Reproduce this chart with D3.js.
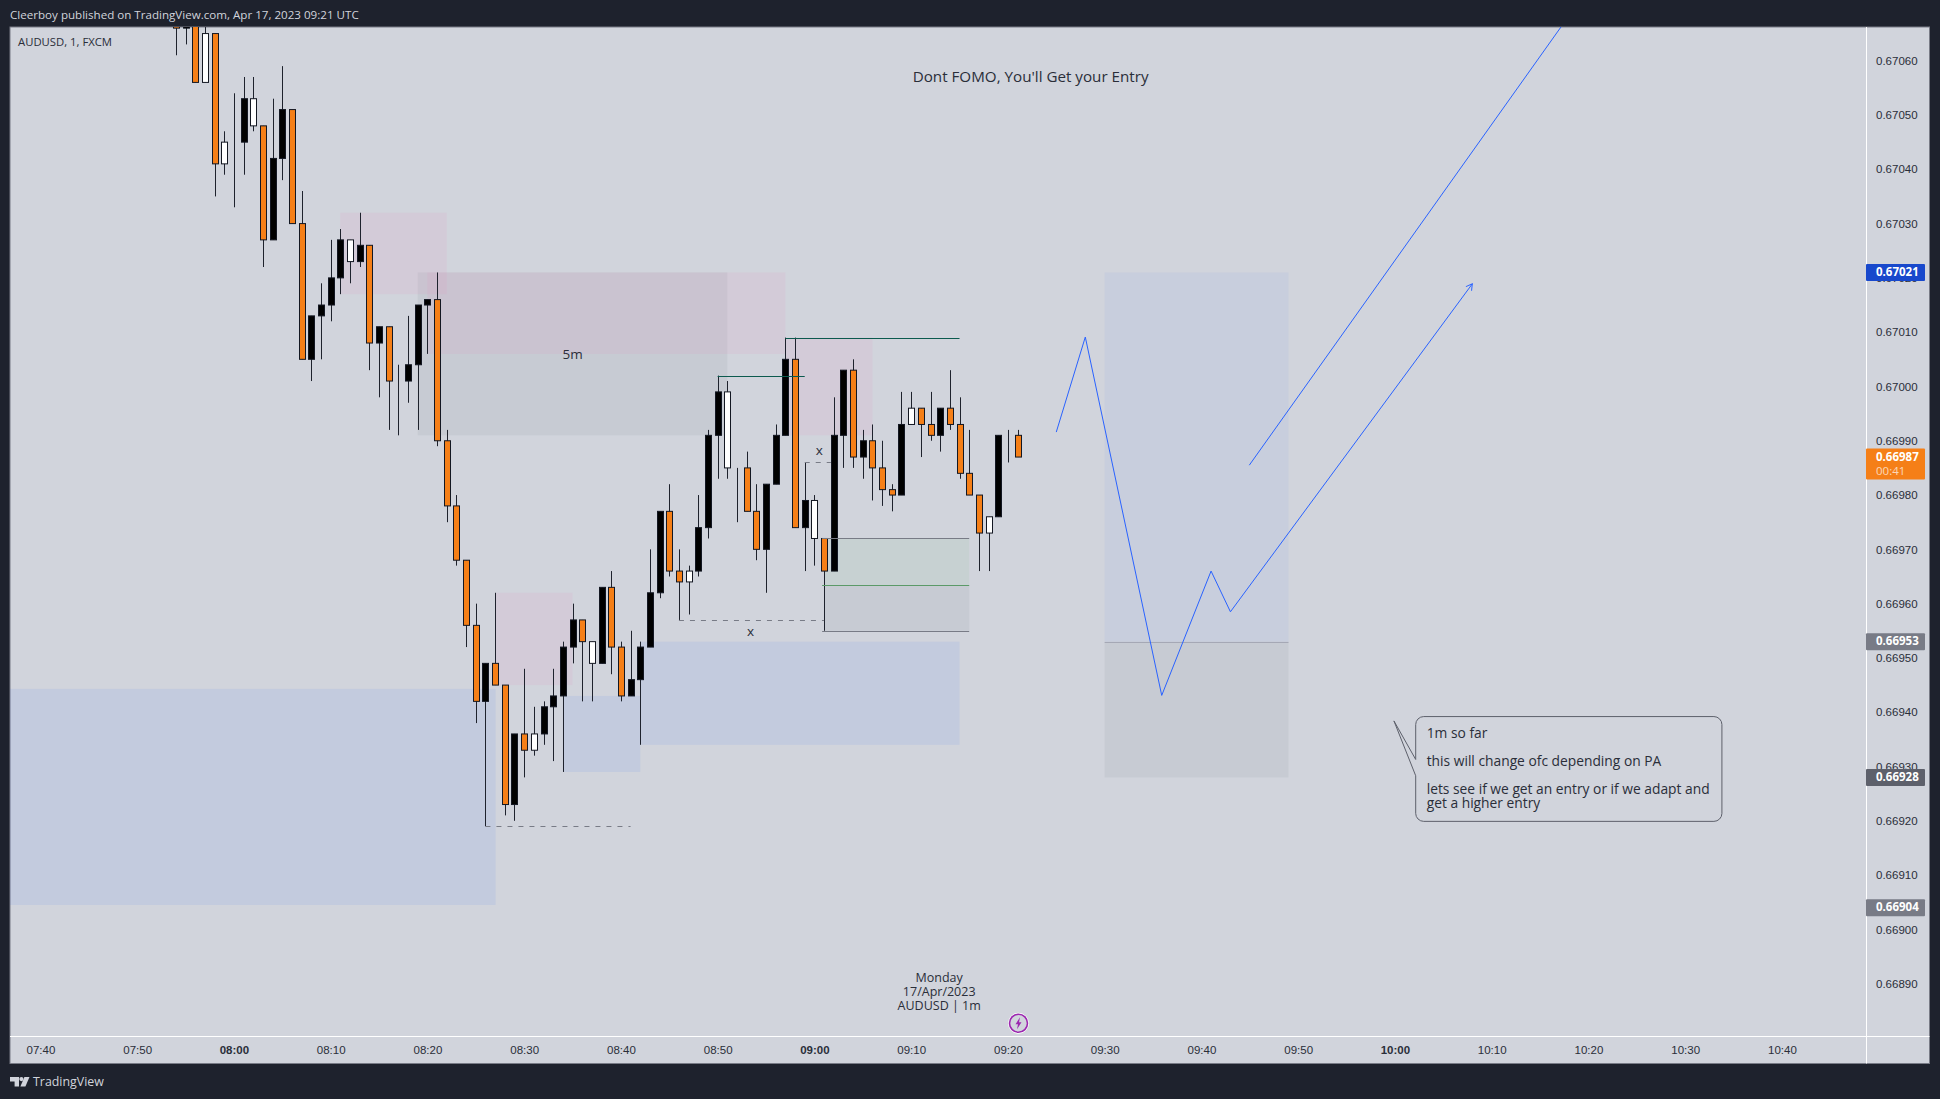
<!DOCTYPE html>
<html lang="en">
<head>
<meta charset="UTF-8">
<title>AUDUSD, 1, FXCM</title>
<style>
  * { margin: 0; padding: 0; box-sizing: border-box; }
  body { background: #1e222d; overflow: hidden; }
  svg { display: block; font-family: 'Open Sans', sans-serif; }
  .tick-text { font-size: 11.5px; fill: #2a2e39; }
  .note { font-size: 13.8px; fill: #2a2e39; }
</style>
</head>
<body>
<svg id="chart" width="1940" height="1099"></svg>
<script src="https://cdnjs.cloudflare.com/ajax/libs/d3/7.8.5/d3.min.js"></script>
<script>
// Prices are in points (1 point = 0.00001), times in minutes after midnight UTC.
const FIRST_MINUTE = 474; // 07:54

const candleKinds = [
  'down', 'up', 'down', 'white', 'down', 'white', 'up', 'up', 'white', 'down', 'up',
  'up', 'down', 'down', 'up', 'up', 'up', 'up', 'white', 'up', 'down', 'up',
  'down', 'up', 'up', 'up', 'up', 'down', 'down', 'down', 'down', 'down', 'up',
  'down', 'down', 'up', 'down', 'white', 'up', 'up', 'up', 'up', 'down', 'white',
  'up', 'down', 'down', 'up', 'up', 'up', 'up', 'down', 'down', 'white', 'up',
  'up', 'up', 'white', 'up', 'down', 'down', 'up', 'up', 'up', 'down', 'up',
  'white', 'down', 'up', 'up', 'down', 'up', 'down', 'down', 'down', 'up', 'white',
  'down', 'down', 'up', 'down', 'down', 'down', 'down', 'white', 'up', 'up', 'down'
];
const bodyTops = [
  67072, 67070, 67075, 67065, 67065, 67045, 67045, 67053, 67053, 67048, 67042,
  67051, 67051, 67030, 67013, 67015, 67020, 67027, 67027, 67026, 67026, 67011,
  67011, 67001, 67004, 67015, 67016, 67016, 66990, 66978, 66968, 66956, 66949,
  66949, 66945, 66936, 66936, 66936, 66941, 66943, 66952, 66957, 66957, 66953,
  66963, 66963, 66952, 66946, 66952, 66962, 66977, 66977, 66966, 66966, 66974,
  66991, 66999, 66999, 66985, 66985, 66977, 66982, 66991, 67005, 67005, 66979,
  66979, 66972, 66991, 67003, 67003, 66990, 66990, 66985, 66981, 66993, 66996,
  66996, 66993, 66996, 66996, 66993, 66984, 66980, 66976, 66991, 66991, 66991
];
const bodyBottoms = [
  67066, 67066, 67056, 67056, 67041, 67041, 67045, 67045, 67048, 67027, 67027,
  67042, 67030, 67005, 67005, 67013, 67015, 67020, 67023, 67023, 67008, 67008,
  67001, 67001, 67001, 67004, 67015, 66990, 66978, 66968, 66956, 66942, 66942,
  66945, 66923, 66923, 66933, 66933, 66936, 66941, 66943, 66952, 66953, 66949,
  66949, 66952, 66943, 66943, 66946, 66952, 66962, 66966, 66964, 66964, 66966,
  66974, 66991, 66985, 66985, 66977, 66970, 66970, 66982, 66991, 66974, 66974,
  66972, 66966, 66966, 66991, 66987, 66987, 66985, 66981, 66980, 66980, 66993,
  66993, 66991, 66991, 66993, 66984, 66980, 66973, 66973, 66976, 66991, 66987
];
const wickHighs = [
  67074, 67072, 67076, 67072, 67065, 67047, 67054, 67057, 67057, 67048, 67053,
  67059, 67051, 67036, 67013, 67019, 67027, 67029, 67027, 67032, 67026, 67011,
  67011, 67004, 67013, 67015, 67016, 67021, 66992, 66980, 66968, 66960, 66949,
  66962, 66945, 66936, 66948, 66941, 66942, 66948, 66953, 66960, 66957, 66953,
  66963, 66966, 66953, 66955, 66953, 66970, 66977, 66982, 66970, 66967, 66980,
  66992, 67002, 67001, 66985, 66988, 66982, 66982, 66993, 67009, 67009, 66986,
  66980, 66972, 66998, 67003, 67005, 66992, 66993, 66990, 66982, 66999, 66999,
  66996, 66999, 66996, 67003, 66998, 66992, 66980, 66976, 66991, 66992, 66992
];
const wickLows = [
  67061, 67063, 67056, 67056, 67035, 67039, 67033, 67039, 67047, 67022, 67027,
  67038, 67030, 67005, 67001, 67005, 67012, 67017, 67019, 67022, 67003, 66998,
  66992, 66991, 66997, 66992, 67006, 66989, 66975, 66967, 66952, 66938, 66919,
  66945, 66921, 66920, 66928, 66932, 66934, 66931, 66929, 66949, 66942, 66942,
  66949, 66947, 66942, 66943, 66934, 66952, 66961, 66965, 66957, 66958, 66965,
  66972, 66983, 66983, 66975, 66977, 66968, 66962, 66982, 66991, 66974, 66966,
  66967, 66955, 66966, 66985, 66985, 66983, 66979, 66978, 66977, 66980, 66993,
  66987, 66990, 66988, 66992, 66983, 66980, 66966, 66966, 66976, 66986, 66987
];

const priceTicks = [66890, 66900, 66910, 66920, 66930, 66940, 66950, 66960, 66970, 66980,
  66990, 67000, 67010, 67020, 67030, 67040, 67050, 67060];
const timeTicks = [460, 470, 480, 490, 500, 510, 520, 530, 540, 550, 560, 570, 580, 590,
  600, 610, 620, 630, 640];

// Zones: [start, end, top price, bottom price]
const pinkZones = [[491, 502, 67032, 67017], [500, 537, 67021, 67006], [537, 546, 67009, 66991], [507, 515, 66962, 66945]];
const blueZones = [[420, 507.05, 66944.3, 66904.5], [514, 522, 66943, 66929], [522, 555, 66953, 66934]];
const greyZones = [[499, 531, 67021, 66991]];
const tealLines = [[530, 539, 67002], [537, 555, 67009]];
const dashedLines = [[506, 521, 66919], [526, 541, 66957], [539, 541.7, 66986]];

const longPosition = { start: 541, end: 556, top: 66972, mid: 66963.4, bottom: 66955 };
const plannedPosition = { start: 570, end: 589, top: 67021, mid: 66953, bottom: 66928 };
const plannedPathTimes = [565, 568, 575.9, 581, 583, 608];
const plannedPathPrices = [66991.6, 67009.1, 66943.1, 66966, 66958.5, 67018.9];
const secondPathTimes = [584.95, 617.4];
const secondPathPrices = [66985.5, 67066.8];

const noteLines = ['1m so far', '', 'this will change ofc depending on PA', '', 'lets see if we get an entry or if we adapt and', 'get a higher entry'];
const tagPrices = [67021, 66987, 66953, 66928, 66904];
const tagKinds = ['blue', 'last', 'grey', 'dark', 'grey'];
const TAG_COLORS = { blue: '#1848cc', last: '#f57f17', grey: '#787b86', dark: '#5d606b' };
const BODY_COLORS = { down: '#f57f17', up: '#000000', white: '#ffffff' };

const PANE = { left: 10, top: 27, right: 1866, bottom: 1036, outerRight: 1929.5, outerBottom: 1063.5 };

const svg = d3.select('#chart');
const x = d3.scaleLinear().domain([480, 640]).range([233.9, 1781.9]);
const y = d3.scaleLinear().domain([66890, 67060]).range([983.7, 60.7]);
const crisp = (v) => Math.round(v) + 0.5;

svg.append('defs').append('clipPath').attr('id', 'pane-clip').append('rect')
  .attr('x', PANE.left).attr('y', PANE.top)
  .attr('width', PANE.right - PANE.left).attr('height', PANE.bottom - PANE.top);

svg.select('defs').append('marker')
  .attr('id', 'arrow').attr('viewBox', '-7 -5 8 10')
  .attr('markerUnits', 'userSpaceOnUse')
  .attr('markerWidth', 8).attr('markerHeight', 10)
  .attr('orient', 'auto')
  .append('path').attr('d', 'M-6,-3.5L0,0L-6,3.5').attr('fill', 'none')
  .attr('stroke', '#2962ff').attr('stroke-width', 1);

// Frame and panes
svg.append('rect')
  .attr('x', PANE.left).attr('y', PANE.top)
  .attr('width', PANE.outerRight - PANE.left).attr('height', PANE.outerBottom - PANE.top)
  .attr('fill', '#d1d4dc').attr('stroke', '#787b86').attr('stroke-width', 1);
svg.append('line').attr('x1', PANE.right + 0.5).attr('x2', PANE.right + 0.5)
  .attr('y1', PANE.top).attr('y2', PANE.outerBottom).attr('stroke', '#ffffff');
svg.append('line').attr('x1', PANE.left).attr('x2', PANE.outerRight)
  .attr('y1', PANE.bottom + 0.5).attr('y2', PANE.bottom + 0.5).attr('stroke', '#ffffff');

const plot = svg.append('g').attr('clip-path', 'url(#pane-clip)');

function drawZones(zones, fill) {
  plot.append('g').selectAll('rect').data(zones).join('rect')
    .attr('x', (d) => x(d[0])).attr('width', (d) => x(d[1]) - x(d[0]))
    .attr('y', (d) => y(d[2])).attr('height', (d) => y(d[3]) - y(d[2]))
    .attr('fill', fill);
}

drawZones(greyZones, 'rgba(120,123,134,0.1)');
drawZones(pinkZones, 'rgba(233,130,190,0.1)');
drawZones(blueZones, 'rgba(41,98,255,0.08)');

// Position tools under the candles
function drawPosition(pos, upperFill, lowerFill) {
  drawZones([[pos.start, pos.end, pos.top, pos.mid]], upperFill);
  drawZones([[pos.start, pos.end, pos.mid, pos.bottom]], lowerFill);
}
drawPosition(longPosition, 'rgba(76,175,80,0.07)', 'rgba(120,123,134,0.1)');
drawPosition(plannedPosition, 'rgba(41,98,255,0.05)', 'rgba(120,123,134,0.1)');

const posLines = [
  [longPosition.start - 0.2, longPosition.end, longPosition.top, '#787b86', 1],
  [longPosition.start - 0.2, longPosition.end, longPosition.mid, '#5b9a68', 1],
  [longPosition.start - 0.2, longPosition.end, longPosition.bottom, '#787b86', 1],
  [plannedPosition.start, plannedPosition.end, plannedPosition.mid, '#a5a8b5', 1]
];

// Candles
const candles = candleKinds.map((kind, i) => ({
  minute: FIRST_MINUTE + i,
  kind,
  top: bodyTops[i],
  bottom: bodyBottoms[i],
  high: wickHighs[i],
  low: wickLows[i]
}));
const candleG = plot.append('g');
candleG.selectAll('line.wick').data(candles).join('line')
  .attr('class', 'wick')
  .attr('x1', (d) => crisp(x(d.minute))).attr('x2', (d) => crisp(x(d.minute)))
  .attr('y1', (d) => y(d.high)).attr('y2', (d) => y(d.low))
  .attr('stroke', '#1e222d').attr('stroke-width', 1);
candleG.selectAll('rect.body').data(candles).join('rect')
  .attr('class', 'body')
  .attr('x', (d) => crisp(x(d.minute)) - 3).attr('width', 6)
  .attr('y', (d) => y(d.top)).attr('height', (d) => y(d.bottom) - y(d.top))
  .attr('fill', (d) => BODY_COLORS[d.kind])
  .attr('stroke', '#131722').attr('stroke-width', 1);

// Lines on top of the candles
plot.append('g').selectAll('line').data(posLines).join('line')
  .attr('x1', (d) => x(d[0])).attr('x2', (d) => x(d[1]))
  .attr('y1', (d) => crisp(y(d[2]))).attr('y2', (d) => crisp(y(d[2])))
  .attr('stroke', (d) => d[3]).attr('stroke-width', (d) => d[4]);
plot.append('g').selectAll('line').data(tealLines).join('line')
  .attr('x1', (d) => x(d[0])).attr('x2', (d) => x(d[1]))
  .attr('y1', (d) => crisp(y(d[2]))).attr('y2', (d) => crisp(y(d[2])))
  .attr('stroke', '#0b5a4e').attr('stroke-width', 1);
plot.append('g').selectAll('line').data(dashedLines).join('line')
  .attr('x1', (d) => x(d[0])).attr('x2', (d) => x(d[1]))
  .attr('y1', (d) => crisp(y(d[2]))).attr('y2', (d) => crisp(y(d[2])))
  .attr('stroke', '#787b86').attr('stroke-width', 1).attr('stroke-dasharray', '5 6');

// Planned moves
const pathLine = d3.line().x((d) => x(d[0])).y((d) => y(d[1]));
plot.append('path')
  .attr('d', pathLine(d3.zip(plannedPathTimes, plannedPathPrices)))
  .attr('fill', 'none').attr('stroke', '#2962ff').attr('stroke-width', 1)
  .attr('marker-end', 'url(#arrow)');
plot.append('path')
  .attr('d', pathLine(d3.zip(secondPathTimes, secondPathPrices)))
  .attr('fill', 'none').attr('stroke', '#2962ff').attr('stroke-width', 1);

// Callout
const note = { left: 602.15, right: 633.8, top: 66939.2, bottom: 66919.9, tipT: 599.9, tipP: 66938.4, tailTop: 66931.3, tailBottom: 66928.3 };
const r = 8;
const notePath = d3.path();
notePath.moveTo(x(note.left), y(note.tailTop));
notePath.lineTo(x(note.tipT), y(note.tipP));
notePath.lineTo(x(note.left), y(note.tailBottom));
notePath.arcTo(x(note.left), y(note.bottom), x(note.right), y(note.bottom), r);
notePath.arcTo(x(note.right), y(note.bottom), x(note.right), y(note.top), r);
notePath.arcTo(x(note.right), y(note.top), x(note.left), y(note.top), r);
notePath.arcTo(x(note.left), y(note.top), x(note.left), y(note.tailTop), r);
notePath.closePath();
plot.append('path').attr('d', notePath.toString())
  .attr('fill', '#d1d4dc').attr('stroke', '#5d606b').attr('stroke-width', 1);

const noteText = plot.append('g').attr('class', 'note');
let noteY = y(note.top) + 17.6;
noteLines.forEach((line, i) => {
  noteText.append('text').attr('x', x(note.left) + 11).attr('y', noteY)
    .attr('dominant-baseline', 'middle').text(line);
  noteY += (i >= 4) ? 14.4 : 14;
});

// Text notes on the chart
const chartLabels = [
  { text: "Dont FOMO, You'll Get your Entry", t: 562.35, p: 67056.9, size: 15.2 },
  { text: '5m', t: 515, p: 67005.8, size: 13.5 },
  { text: 'x', t: 540.5, p: 66988, size: 13.5 },
  { text: 'x', t: 533.4, p: 66954.7, size: 13.5 },
  { text: 'Monday', t: 552.9, p: 66891, size: 12.5 },
  { text: '17/Apr/2023', t: 552.9, p: 66888.4, size: 12.5 },
  { text: 'AUDUSD | 1m', t: 552.9, p: 66885.75, size: 12.5 }
];
svg.append('g').selectAll('text').data(chartLabels).join('text')
  .attr('x', (d) => x(d.t)).attr('y', (d) => y(d.p))
  .attr('text-anchor', 'middle').attr('dominant-baseline', 'middle')
  .attr('font-size', (d) => d.size).attr('fill', '#2a2e39')
  .text((d) => d.text);

// Axes
const priceAxis = d3.axisRight(y).tickValues(priceTicks)
  .tickFormat((d) => d3.format('.5f')(d / 100000)).tickSize(0).tickPadding(0);
svg.append('g').attr('transform', 'translate(1876,0)').call(priceAxis)
  .call((g) => g.select('.domain').remove())
  .call((g) => g.selectAll('text').attr('class', 'tick-text').attr('font-family', null).attr('font-size', null));

const timeLabel = (m) => String(Math.floor(m / 60)).padStart(2, '0') + ':' + String(m % 60).padStart(2, '0');
const timeAxis = d3.axisBottom(x).tickValues(timeTicks).tickFormat(timeLabel).tickSize(0).tickPadding(0);
svg.append('g').attr('transform', 'translate(0,1045.5)').call(timeAxis)
  .call((g) => g.select('.domain').remove())
  .call((g) => g.selectAll('text').attr('class', 'tick-text').attr('font-family', null).attr('font-size', null)
    .attr('font-weight', (d) => (d % 60 === 0 ? 700 : 400)));

// Price tags
const tags = svg.append('g').selectAll('g').data(d3.zip(tagPrices, tagKinds)).join('g');
tags.append('rect')
  .attr('x', PANE.right).attr('width', 59)
  .attr('y', (d) => y(d[0]) - 8.5 + (d[1] === 'grey' ? 0 : 0)).attr('height', (d) => (d[1] === 'last' ? 31 : 17))
  .attr('rx', 1).attr('fill', (d) => TAG_COLORS[d[1]]);
tags.append('text')
  .attr('x', 1876).attr('y', (d) => y(d[0]) + 0.7)
  .attr('dominant-baseline', 'middle')
  .attr('font-size', 11.5).attr('font-weight', 700).attr('fill', '#ffffff')
  .text((d) => d3.format('.5f')(d[0] / 100000));
svg.append('text')
  .attr('x', 1876).attr('y', y(tagPrices[1]) + 15)
  .attr('dominant-baseline', 'middle')
  .attr('font-size', 11.5).attr('fill', '#ffffff').attr('fill-opacity', 0.7)
  .text('00:41');

// Lightning marker on the last bar
const bolt = svg.append('g').attr('transform', `translate(${crisp(x(561))},1023.3)`);
bolt.append('circle').attr('r', 10.5).attr('fill', '#ffffff');
bolt.append('circle').attr('r', 9).attr('fill', '#d1d4dc').attr('stroke', '#9c27b0').attr('stroke-width', 1.6);
bolt.append('path').attr('d', 'M1.5,-6L-3,1H-0.5L-1.5,6L3,-1H0.5Z').attr('fill', '#9c27b0');

// Header and footer
svg.append('text').attr('x', 10).attr('y', 16).attr('dominant-baseline', 'middle')
  .attr('font-size', 11.6).attr('fill', '#d1d4dc')
  .text('Cleerboy published on TradingView.com, Apr 17, 2023 09:21 UTC');
svg.append('text').attr('x', 18).attr('y', 43).attr('dominant-baseline', 'middle')
  .attr('font-size', 11.3).attr('fill', '#2a2e39')
  .text('AUDUSD, 1, FXCM');

const logo = svg.append('g').attr('transform', 'translate(10,1077)').attr('fill', '#d1d4dc');
logo.append('path').attr('d', 'M0,0H9V9.5H4.6V4.4H0Z');
logo.append('circle').attr('cx', 11.4).attr('cy', 2.1).attr('r', 2.1);
logo.append('path').attr('d', 'M14.4,0H19.5L15.4,9.5H10.4Z');
svg.append('text').attr('x', 33).attr('y', 1082.5).attr('dominant-baseline', 'middle')
  .attr('font-size', 12.4).attr('fill', '#d1d4dc').text('TradingView');
</script>
</body>
</html>
